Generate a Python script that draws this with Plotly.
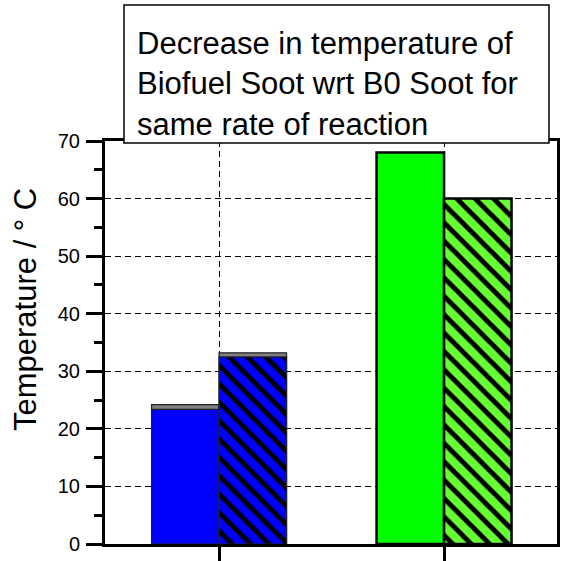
import plotly.graph_objects as go

# Group positions on the x axis (two soot comparisons, no tick labels)
group_pos = [1, 2]

# Bar heights, temperature decrease in deg C
blue_solid = [23.4]
blue_hatched = [32.5]
blue_caps = [24.2, 33.2]      # grey cap behind the blue pair
green_solid = [68]
green_hatched = [60]

y_ticks = [0, 10, 20, 30, 40, 50, 60, 70]

BW = 0.3
FONT = "Liberation Sans, Arial, sans-serif"

# plot-area geometry in pixels, used to place the text box and axis title
W, H = 565, 561
L, R, T, B = 105, 8, 141, 17
PW, PH = W - L - R, H - T - B


def px_x(p):
    return (p - L) / PW


def px_y(p):
    return (H - B - p) / PH


fig = go.Figure()

# grey cap bars (drawn first, sit behind the blue bars)
fig.add_trace(go.Bar(
    x=[group_pos[0], group_pos[0]], y=blue_caps,
    offset=[-BW, 0], width=BW,
    marker=dict(color="#808080", line=dict(color="#222222", width=1.2)),
    showlegend=False, hoverinfo="skip",
))
fig.add_trace(go.Bar(
    x=[group_pos[0]], y=blue_solid, offset=-BW, width=BW,
    marker=dict(color="#0000ff", line=dict(color="#222222", width=1.2)),
    showlegend=False,
))
fig.add_trace(go.Bar(
    x=[group_pos[0]], y=blue_hatched, offset=0, width=BW,
    marker=dict(color="#0000ff", line=dict(color="#222222", width=1.2),
                pattern=dict(shape="\\", fgcolor="black", bgcolor="#0000ff",
                             size=13, solidity=0.38, fillmode="replace")),
    showlegend=False,
))
fig.add_trace(go.Bar(
    x=[group_pos[1]], y=green_solid, offset=-BW, width=BW,
    marker=dict(color="#00ff00", line=dict(color="black", width=2.5)),
    showlegend=False,
))
fig.add_trace(go.Bar(
    x=[group_pos[1]], y=green_hatched, offset=0, width=BW,
    marker=dict(color="#66ff33", line=dict(color="black", width=2.5),
                pattern=dict(shape="\\", fgcolor="black", bgcolor="#66ff33",
                             size=13, solidity=0.38, fillmode="replace")),
    showlegend=False,
))

fig.update_layout(
    width=W, height=H,
    margin=dict(l=L, r=R, t=T, b=B),
    barmode="overlay",
    plot_bgcolor="white", paper_bgcolor="white",
    font=dict(family=FONT, color="black"),
    xaxis=dict(
        range=[0.493, 2.502], tickvals=group_pos, showticklabels=False,
        ticks="outside", ticklen=14, tickwidth=3, tickcolor="black",
        showline=True, linewidth=3, linecolor="black", mirror=True,
        showgrid=True, gridcolor="black", gridwidth=1, griddash="6px,4px",
        zeroline=False, automargin=False,
    ),
    yaxis=dict(
        range=[0, 70], tickvals=y_ticks,
        ticks="outside", ticklen=16, tickwidth=3, tickcolor="black",
        tickfont=dict(size=20, family=FONT), ticklabelstandoff=2,
        minor=dict(dtick=5, tick0=0, ticks="outside", ticklen=8, tickwidth=3,
                   tickcolor="black", showgrid=False),
        showline=True, linewidth=3, linecolor="black", mirror=True,
        showgrid=True, gridcolor="black", gridwidth=1, griddash="6px,4px",
        zeroline=False, automargin=False,
    ),
    shapes=[dict(
        type="rect", xref="paper", yref="paper", layer="above",
        x0=px_x(124), x1=px_x(549), y0=px_y(143), y1=px_y(5),
        fillcolor="white", line=dict(color="black", width=1.5),
    )],
    annotations=[
        dict(
            xref="paper", yref="paper", x=px_x(135), y=px_y(84),
            xanchor="left", yanchor="middle",
            text="Decrease in temperature of<br>Biofuel Soot wrt B0 Soot for<br>same rate of reaction",
            align="left",
            font=dict(size=31, family=FONT, color="black"),
            showarrow=False,
        ),
        dict(
            xref="paper", yref="paper", x=px_x(25), y=px_y(310),
            xanchor="center", yanchor="middle", textangle=-90,
            text="Temperature / ° C",
            font=dict(size=31, family=FONT, color="black"),
            showarrow=False,
        ),
    ],
)

fig.write_html("out.html")
